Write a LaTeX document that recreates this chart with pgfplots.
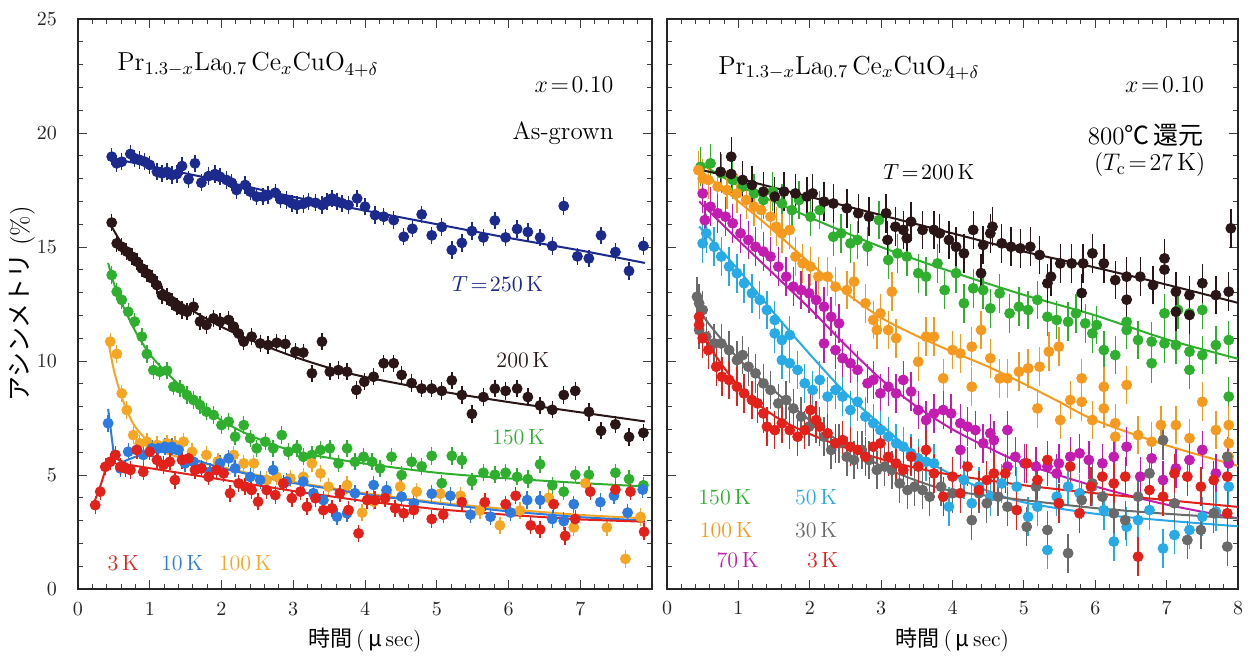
\documentclass[border=0pt]{standalone}
\usepackage{fontspec}
\newfontfamily\cjk{Noto Sans CJK JP}
\usepackage{pgfplots}
\pgfplotsset{compat=1.18}
\definecolor{cnavy}{HTML}{1B2A8C}
\definecolor{cblk}{HTML}{2A1616}
\definecolor{cgrn}{HTML}{2EB02E}
\definecolor{corg}{HTML}{F5A623}
\definecolor{cblu}{HTML}{2E7BE0}
\definecolor{cred}{HTML}{E3211B}
\definecolor{ccyn}{HTML}{27AAE6}
\definecolor{cgry}{HTML}{6A6A6A}
\definecolor{cmag}{HTML}{C21DB0}
\definecolor{corg2}{HTML}{F59A1E}
\pgfplotsset{
  panel/.style={scale only axis, width=287pt, height=285pt,
    xmin=0, xmax=8, ymin=0, ymax=25,
    xtick={0,...,8}, ytick={0,5,10,15,20,25},
    minor x tick num=4, minor y tick num=4,
    tick align=inside, major tick length=4.5pt, minor tick length=2.5pt,
    axis line style={line width=0.6pt, black!85},
    every tick/.append style={black!75, line width=0.5pt},
    tick label style={font=\fontsize{10}{12}\selectfont, black!85},
    xticklabel style={yshift=-3pt}, yticklabel style={xshift=-7pt},
    xlabel={{\cjk 時間}\,(\,{\cjk μ}\,sec)},
    xlabel style={at={(axis description cs:0.5,-0.0895)}, anchor=center, font=\fontsize{11}{13}\selectfont},
  },
  dat/.style={only marks, mark=*, mark size=2.5pt, color=#1,
    mark options={fill=#1, draw=#1},
    error bars/y dir=both, error bars/y fixed=0.38, error bars/error mark=none,
    error bars/error bar style={#1, line width=0.7pt}},
  datR/.style={dat=#1, error bars/y fixed=0.85},
  fitl/.style={#1, line width=1pt, smooth, no marks},
  fits/.style={#1, line width=1pt, sharp plot, no marks},
}
\begin{document}
\begin{tikzpicture}
\useasboundingbox (-39pt,-36pt) rectangle (588pt,294.5pt);
% ---------------- left panel ----------------
\begin{axis}[panel, at={(0pt,0pt)}, anchor=south west,
  xticklabels={0,1,2,3,4,5,6,7,{}},
  ylabel={{\cjk アシンメトリ}\ (\%)},
  ylabel style={at={(axis description cs:-0.0976,0.5)}, anchor=center, font=\fontsize{12.5}{14}\selectfont}]
% 150 K
\addplot[dat=cgrn] coordinates {(0.47,13.77)(0.54,13.04)(0.61,12.68)(0.70,12.16)(0.79,11.73)(0.89,11.07)(0.96,10.31)(1.05,9.60)(1.14,9.53)(1.24,9.58)(1.33,8.87)(1.42,8.80)(1.52,8.51)(1.61,8.29)(1.70,8.07)(1.79,7.78)(1.89,7.63)(2.00,7.19)(2.10,7.34)(2.19,6.68)(2.31,7.19)(2.40,6.61)(2.49,6.17)(2.61,6.46)(2.72,6.17)(2.84,6.75)(2.93,6.02)(3.05,6.17)(3.14,5.80)(3.26,5.88)(3.38,6.10)(3.51,6.17)(3.63,5.51)(3.75,6.17)(3.86,5.58)(3.98,5.80)(4.10,5.58)(4.21,5.29)(4.37,5.80)(4.51,5.00)(4.65,5.58)(4.79,5.38)(4.93,5.84)(5.07,4.64)(5.21,5.84)(5.35,5.65)(5.49,4.73)(5.65,5.10)(5.81,5.01)(5.96,5.10)(6.12,4.92)(6.27,4.82)(6.44,5.47)(6.61,4.55)(6.77,4.27)(6.93,5.01)(7.12,5.01)(7.49,5.10)(7.68,4.82)(7.88,4.55)};
\addplot[fitl=cgrn] coordinates {(0.42,14.3)(0.5,13.4)(0.6,12.6)(0.8,11.3)(1.0,10.3)(1.2,9.6)(1.5,8.7)(2,7.4)(2.5,6.6)(3,6.05)(3.5,5.75)(4,5.5)(5,5.1)(6,4.85)(7,4.65)(7.9,4.5)};
% 200 K
\addplot[dat=cblk] coordinates {(0.47,16.07)(0.54,15.16)(0.61,15.01)(0.68,14.80)(0.75,14.58)(0.82,14.36)(0.89,14.06)(0.96,13.84)(1.03,13.63)(1.10,13.33)(1.17,12.89)(1.24,12.82)(1.31,12.60)(1.38,12.38)(1.45,12.24)(1.52,12.16)(1.61,12.38)(1.70,11.73)(1.79,11.58)(1.89,11.87)(1.98,11.73)(2.10,11.80)(2.17,11.51)(2.24,11.20)(2.31,10.85)(2.42,11.07)(2.54,10.77)(2.65,10.70)(2.77,10.80)(2.89,10.75)(3.03,10.41)(3.14,10.37)(3.26,9.46)(3.40,10.85)(3.51,9.53)(3.63,9.60)(3.75,9.53)(3.88,8.73)(3.99,9.09)(4.12,9.31)(4.26,9.90)(4.40,9.90)(4.51,9.39)(4.65,9.03)(4.79,8.79)(4.93,8.79)(5.07,8.69)(5.21,9.15)(5.35,8.51)(5.49,7.68)(5.65,8.42)(5.81,8.79)(5.96,8.69)(6.12,8.79)(6.27,8.42)(6.44,8.05)(6.61,7.86)(6.77,8.51)(6.93,8.69)(7.12,7.77)(7.29,6.94)(7.49,7.22)(7.68,6.67)(7.88,6.85)};
\addplot[fitl=cblk] coordinates {(0.45,16.0)(0.6,15.2)(0.8,14.3)(1.0,13.6)(1.5,12.4)(2,11.5)(2.5,10.8)(3,10.2)(3.5,9.7)(4,9.3)(5,8.7)(6,8.2)(7,7.75)(7.9,7.35)};
% 250 K
\addplot[dat=cnavy] coordinates {(0.47,18.96)(0.54,18.67)(0.61,18.74)(0.73,19.08)(0.79,18.89)(0.86,18.82)(0.93,18.74)(1.00,18.60)(1.10,18.30)(1.17,18.23)(1.24,18.30)(1.31,18.16)(1.38,18.20)(1.45,18.55)(1.54,17.97)(1.63,18.67)(1.72,17.82)(1.82,18.11)(1.91,18.20)(1.98,18.08)(2.07,17.94)(2.14,17.82)(2.21,17.50)(2.33,17.72)(2.40,17.43)(2.49,17.21)(2.58,17.21)(2.65,17.28)(2.75,17.38)(2.82,17.09)(2.91,17.06)(2.98,16.92)(3.05,16.84)(3.14,16.89)(3.21,16.99)(3.31,16.94)(3.40,16.84)(3.47,16.99)(3.54,17.13)(3.61,16.99)(3.68,16.92)(3.77,16.84)(3.89,17.13)(4.00,16.77)(4.14,16.40)(4.26,16.33)(4.40,16.18)(4.54,15.45)(4.66,15.80)(4.79,16.43)(4.93,15.51)(5.07,15.88)(5.21,14.87)(5.35,15.18)(5.49,15.70)(5.65,15.42)(5.81,16.16)(5.96,15.42)(6.12,15.79)(6.27,15.66)(6.44,15.42)(6.61,15.05)(6.77,16.80)(6.96,14.59)(7.12,14.50)(7.29,15.51)(7.49,14.78)(7.68,13.95)(7.88,15.05)};
\addplot[fitl=cnavy] coordinates {(0.45,18.9)(1,18.55)(2,17.9)(3,17.2)(4,16.6)(5,16.0)(6,15.4)(7,14.85)(7.9,14.3)};
% 100 K
\addplot[dat=corg] coordinates {(0.45,10.85)(0.54,10.31)(0.61,8.58)(0.68,7.85)(0.77,6.75)(0.86,6.39)(0.96,6.46)(1.10,6.32)(1.24,6.39)(1.35,6.32)(1.47,6.46)(1.59,6.02)(1.79,5.88)(1.95,5.60)(2.17,5.88)(2.31,5.51)(2.45,5.51)(2.63,4.78)(2.77,4.92)(2.96,4.85)(3.14,4.92)(3.26,5.51)(3.38,5.07)(3.49,4.49)(3.75,4.56)(3.96,3.35)(4.12,3.83)(4.30,4.20)(4.49,4.49)(4.72,4.27)(5.05,4.18)(5.33,4.09)(5.60,3.44)(5.88,2.79)(6.16,3.44)(6.56,4.00)(6.91,2.70)(7.07,4.64)(7.37,2.70)(7.63,1.32)(7.84,3.16)};
\addplot[fitl=corg] coordinates {(0.42,10.9)(0.5,9.6)(0.6,8.5)(0.7,7.7)(0.8,7.1)(1.0,6.4)(1.2,6.0)(1.5,5.7)(2,5.35)(2.5,5.0)(3,4.7)(4,4.2)(5,3.8)(6,3.5)(7,3.25)(7.9,3.1)};
% 10 K
\addplot[dat=cblu] coordinates {(0.42,7.27)(0.52,5.88)(0.59,5.29)(0.70,6.02)(0.82,6.10)(0.91,5.88)(1.03,6.17)(1.12,6.17)(1.21,6.24)(1.31,6.24)(1.40,6.10)(1.49,5.51)(1.61,5.58)(1.72,5.29)(1.84,5.14)(1.98,5.51)(2.10,5.73)(2.19,5.29)(2.40,4.92)(2.54,4.78)(2.72,5.22)(2.91,4.71)(3.14,4.71)(3.28,4.20)(3.42,3.90)(3.61,3.17)(3.75,3.32)(3.86,4.20)(4.12,4.56)(4.30,4.34)(4.51,4.05)(4.68,3.76)(4.93,4.18)(5.19,4.09)(5.47,3.26)(5.75,3.17)(6.03,3.35)(6.26,3.90)(6.44,3.90)(6.61,3.07)(6.77,2.98)(6.91,3.72)(7.28,3.81)(7.47,4.09)(7.66,3.35)(7.87,4.36)};
\addplot[fits=cblu] coordinates {(0.42,7.9)(0.5,5.9)(0.6,5.55)(0.8,5.8)(1.0,6.0)(1.3,6.0)(1.6,5.7)(2,5.3)(2.5,4.95)(3,4.65)(4,4.15)(5,3.75)(6,3.4)(7,3.15)(7.9,3.0)};
% 3 K
\addplot[dat=cred] coordinates {(0.24,3.68)(0.31,4.27)(0.38,5.36)(0.45,5.58)(0.52,5.88)(0.59,5.36)(0.66,5.29)(0.73,5.22)(0.82,6.10)(0.91,5.14)(1.00,6.02)(1.10,5.66)(1.19,5.44)(1.28,5.58)(1.35,4.78)(1.45,5.66)(1.54,5.73)(1.63,5.22)(1.72,5.29)(1.82,4.92)(1.93,5.22)(2.03,5.07)(2.12,4.20)(2.24,4.63)(2.33,4.49)(2.42,4.34)(2.51,3.83)(2.63,4.34)(2.75,4.12)(2.86,4.63)(2.98,3.98)(3.10,4.27)(3.19,3.61)(3.31,3.98)(3.42,3.46)(3.54,3.54)(3.65,4.20)(3.77,3.46)(3.91,2.44)(4.03,3.90)(4.14,3.90)(4.28,3.98)(4.42,3.54)(4.54,3.32)(4.68,3.46)(4.93,3.07)(5.09,3.26)(5.35,3.81)(5.67,3.81)(5.96,3.72)(6.10,4.09)(6.31,2.79)(6.44,2.61)(6.63,3.72)(6.79,2.33)(6.93,3.07)(7.14,4.27)(7.49,4.36)(7.70,4.27)(7.89,2.51)};
\addplot[fits=cred] coordinates {(0.2,3.6)(0.3,4.4)(0.4,5.4)(0.47,5.85)(0.55,5.7)(0.7,5.45)(1,5.3)(1.5,5.05)(2,4.8)(3,4.3)(4,3.85)(5,3.5)(6,3.25)(7,3.05)(7.9,2.95)};
% texts
\node[anchor=west, font=\fontsize{13}{15}\selectfont] at (axis cs:0.45,23.0) {$\mathrm{Pr}_{1.3-x}\mathrm{La}_{0.7}\,\mathrm{Ce}_{x}\mathrm{CuO}_{4+\delta}$};
\node[anchor=east, font=\fontsize{12.5}{15}\selectfont] at (axis cs:7.56,22.1) {$x\!=\!0.10$};
\node[anchor=east, font=\fontsize{12.5}{15}\selectfont] at (axis cs:7.56,20.0) {As-grown};
\node[cnavy, font=\fontsize{11}{13}\selectfont] at (axis cs:5.85,13.4) {$T\!=\!250\,$K};
\node[cblk, font=\fontsize{11}{13}\selectfont] at (axis cs:6.2,10.04) {200\,K};
\node[cgrn, font=\fontsize{11}{13}\selectfont] at (axis cs:6.14,6.67) {150\,K};
\node[cred, font=\fontsize{11}{13}\selectfont] at (axis cs:0.63,1.14) {3\,K};
\node[cblu, font=\fontsize{11}{13}\selectfont] at (axis cs:1.45,1.14) {10\,K};
\node[corg, font=\fontsize{11}{13}\selectfont] at (axis cs:2.33,1.14) {100\,K};
\end{axis}
% ---------------- right panel ----------------
\begin{axis}[panel, at={(294.5pt,0pt)}, anchor=south west, width=285.5pt, yticklabels={}]
% 150 K
\addplot[datR=cgrn] coordinates {(0.47,18.52)(0.61,18.67)(0.76,18.23)(0.92,17.94)(1.06,17.65)(1.22,17.35)(1.35,17.06)(1.48,17.43)(1.61,16.91)(1.75,16.62)(1.85,17.06)(2.01,16.33)(2.14,16.62)(2.33,15.45)(2.44,15.60)(2.57,15.16)(2.67,15.31)(2.81,15.01)(2.97,16.18)(3.10,14.43)(3.23,14.72)(3.36,14.58)(3.52,13.85)(3.63,13.70)(3.79,14.28)(3.89,13.11)(4.05,13.85)(4.16,12.53)(4.29,13.19)(4.43,13.11)(4.53,12.31)(4.66,12.97)(4.80,12.09)(4.93,12.38)(5.06,12.24)(5.19,12.68)(5.33,11.94)(5.46,11.80)(5.62,11.72)(5.73,12.09)(5.86,11.65)(5.96,11.21)(6.02,11.58)(6.12,10.48)(6.28,10.26)(6.44,11.36)(6.44,11.72)(6.60,10.92)(6.79,10.85)(6.79,9.90)(6.97,10.77)(6.97,12.09)(7.13,10.70)(7.16,12.24)(7.32,10.41)(7.32,9.61)(7.32,12.09)(7.50,10.26)(7.50,12.24)(7.69,10.70)(7.87,10.92)(7.87,8.44)};
\addplot[fitl=cgrn] coordinates {(0.45,18.7)(1,17.7)(2,16.3)(3,15.0)(4,13.9)(5,12.9)(6,12.0)(7,10.95)(8,10.1)};
% 100 K
\addplot[datR=corg2] coordinates {(0.44,18.37)(0.50,18.00)(0.58,17.94)(0.71,17.65)(0.84,17.50)(0.98,17.35)(1.11,17.06)(1.22,16.77)(1.32,16.62)(1.45,16.33)(1.53,15.89)(1.61,15.60)(1.72,15.75)(1.80,14.58)(1.90,14.28)(2.01,14.14)(2.12,13.70)(2.25,13.70)(2.36,13.26)(2.52,13.11)(2.62,13.48)(2.78,12.53)(2.89,11.80)(2.94,11.36)(2.99,12.09)(3.10,11.36)(3.15,13.04)(3.21,11.00)(3.52,9.97)(3.63,11.07)(3.74,11.07)(3.87,9.24)(4.00,10.48)(4.11,10.33)(4.27,8.87)(4.27,10.63)(4.40,11.36)(4.53,10.12)(4.66,9.24)(4.77,9.24)(4.93,9.53)(5.06,9.68)(5.19,7.92)(5.22,9.75)(5.35,10.41)(5.49,10.63)(5.51,7.41)(5.65,8.29)(5.81,8.21)(5.81,9.24)(5.96,7.41)(6.12,8.87)(6.12,7.92)(6.28,6.68)(6.28,7.27)(6.44,8.95)(6.60,6.75)(6.79,6.46)(6.92,7.19)(7.13,7.19)(7.32,6.61)(7.50,8.21)(7.50,6.10)(7.69,6.97)(7.87,7.19)(7.87,6.39)(7.87,5.80)};
\addplot[fitl=corg2] coordinates {(0.45,18.4)(1,17.0)(1.5,15.7)(2,14.3)(2.5,13.0)(3,11.9)(3.5,11.1)(4,10.4)(4.5,9.75)(5,9.0)(5.5,8.2)(6,7.4)(7,6.3)(8,5.4)};
% 70 K
\addplot[datR=cmag] coordinates {(0.50,17.35)(0.53,16.18)(0.61,16.77)(0.71,16.48)(0.82,16.33)(0.92,16.04)(1.03,15.60)(1.14,15.31)(1.24,15.01)(1.35,14.80)(1.45,14.58)(1.56,14.14)(1.67,13.70)(1.77,13.26)(1.88,13.11)(1.99,12.97)(2.09,12.68)(2.20,12.38)(2.20,10.77)(2.30,11.94)(2.36,10.48)(2.41,11.65)(2.46,10.12)(2.57,9.90)(2.67,9.61)(2.81,9.02)(2.89,9.17)(2.99,8.58)(3.10,8.87)(3.21,8.58)(3.31,9.17)(3.42,8.66)(3.52,7.85)(3.63,7.41)(3.74,7.70)(3.87,7.85)(3.98,7.70)(4.11,7.27)(4.11,6.10)(4.21,7.12)(4.32,6.97)(4.43,6.39)(4.53,6.83)(4.58,6.53)(4.77,6.97)(4.77,5.37)(4.88,5.80)(5.01,5.51)(5.17,5.37)(5.33,5.37)(5.46,5.07)(5.49,5.51)(5.65,5.80)(5.78,5.95)(5.91,5.66)(6.10,5.51)(6.26,5.80)(6.44,6.24)(6.63,4.93)(6.79,5.73)(6.95,4.78)(7.13,5.29)(7.32,5.66)(7.50,6.10)(7.69,5.07)(7.87,5.51)};
\addplot[fitl=cmag] coordinates {(0.45,17.0)(1,15.3)(1.5,13.8)(2,12.3)(2.5,10.7)(3,9.2)(3.5,8.0)(4,7.0)(4.5,6.2)(5,5.5)(6,4.5)(7,3.7)(8,3.1)};
% 50 K
\addplot[datR=ccyn] coordinates {(0.50,15.16)(0.55,15.60)(0.66,15.01)(0.76,14.58)(0.87,14.14)(0.98,13.85)(1.08,13.41)(1.19,12.97)(1.30,12.68)(1.40,12.24)(1.51,11.80)(1.51,11.21)(1.61,10.92)(1.72,11.14)(1.61,10.04)(1.72,9.90)(1.83,9.61)(1.93,9.02)(2.04,8.73)(2.14,9.17)(2.25,8.44)(2.36,8.73)(2.46,8.44)(2.57,7.85)(2.67,8.21)(2.78,7.56)(2.89,7.27)(2.99,6.97)(3.10,6.68)(3.21,6.39)(3.31,6.24)(3.42,5.95)(3.52,5.73)(3.63,5.58)(3.74,5.51)(3.95,3.61)(4.16,4.78)(4.27,3.76)(4.37,4.49)(4.53,4.05)(4.69,4.63)(4.90,4.49)(5.06,3.17)(5.19,3.61)(5.33,1.71)(5.46,4.05)(5.62,4.49)(5.78,4.20)(5.96,4.49)(6.12,3.46)(6.26,2.08)(6.44,2.73)(6.60,3.02)(6.76,3.46)(6.95,1.78)(7.11,2.37)(7.32,2.59)(7.50,3.17)(7.69,3.39)(7.87,4.49)};
\addplot[fitl=ccyn] coordinates {(0.45,15.9)(1,14.0)(1.5,12.1)(2,10.3)(2.5,8.6)(3,7.2)(3.5,5.9)(4,5.0)(4.5,4.3)(5,3.8)(6,3.3)(7,3.0)(8,2.75)};
% 30 K
\addplot[datR=cgry] coordinates {(0.42,12.82)(0.45,12.53)(0.50,12.24)(0.45,11.36)(0.55,11.07)(0.66,10.77)(0.76,10.77)(0.87,10.48)(0.98,10.04)(1.06,10.26)(1.14,9.75)(1.24,9.46)(1.35,9.02)(1.45,8.73)(1.56,8.14)(1.67,8.29)(1.77,7.92)(1.88,7.56)(1.99,7.12)(2.09,7.27)(2.20,6.68)(2.30,6.10)(2.41,6.39)(2.52,5.80)(2.62,5.66)(2.73,6.10)(2.83,5.66)(2.94,5.22)(3.05,5.37)(3.15,5.22)(3.26,4.63)(3.37,4.34)(3.47,4.49)(3.58,4.34)(3.68,4.05)(3.84,4.49)(4.00,4.20)(4.27,3.02)(4.37,4.20)(4.48,3.76)(4.64,4.05)(4.77,3.61)(5.04,2.73)(5.17,4.49)(5.33,2.59)(5.49,3.76)(5.62,1.57)(5.81,3.90)(5.96,4.63)(6.10,4.05)(6.26,3.32)(6.42,3.02)(6.60,4.05)(6.76,5.07)(6.95,6.53)(7.11,3.76)(7.29,2.15)(7.48,2.59)(7.66,3.32)(7.85,5.80)(7.85,1.86)};
\addplot[fitl=cgry] coordinates {(0.42,12.8)(0.5,12.0)(1,10.1)(1.5,8.7)(2,7.4)(2.5,6.3)(3,5.4)(3.5,4.75)(4,4.3)(5,3.9)(6,3.55)(7,3.3)(8,3.1)};
% 3 K
\addplot[datR=cred] coordinates {(0.45,11.94)(0.45,11.58)(0.50,11.00)(0.58,10.48)(0.69,9.75)(0.77,9.31)(0.87,9.17)(0.98,8.87)(1.08,8.58)(1.19,8.29)(1.27,8.14)(1.35,7.70)(1.40,7.12)(1.51,6.97)(1.61,7.27)(1.72,6.97)(1.83,6.68)(1.93,6.97)(2.01,7.85)(2.09,7.41)(2.14,7.12)(2.25,6.83)(2.36,6.39)(2.46,6.53)(2.57,6.24)(2.67,6.10)(2.78,5.80)(2.89,6.24)(2.99,6.39)(3.10,5.80)(3.21,5.51)(3.31,5.22)(3.42,5.80)(3.52,5.37)(3.63,6.10)(3.74,5.07)(3.87,4.05)(4.00,4.93)(4.11,4.20)(4.21,5.37)(4.37,4.34)(4.48,4.78)(4.58,5.07)(4.74,5.07)(4.90,3.46)(5.04,5.51)(5.19,4.78)(5.33,5.66)(5.49,3.76)(5.65,5.37)(5.78,3.32)(5.94,4.49)(6.10,4.93)(6.26,4.63)(6.42,4.93)(6.60,1.42)(6.76,4.34)(6.95,4.05)(7.11,5.07)(7.29,4.93)(7.48,4.49)(7.66,4.78)(7.85,3.32)(7.85,4.93)};
\addplot[fitl=cred] coordinates {(0.42,12.0)(0.5,11.1)(1,8.9)(1.5,7.6)(2,6.8)(2.5,6.2)(3,5.7)(3.5,5.3)(4,5.0)(5,4.55)(6,4.2)(7,3.9)(8,3.6)};
% 200 K
\addplot[datR=cblk] coordinates {(0.75,18.30)(0.90,18.96)(0.90,18.20)(1.06,17.94)(1.19,17.72)(1.35,17.43)(1.51,17.21)(1.64,17.43)(1.80,17.35)(1.96,17.21)(2.04,17.35)(2.20,16.99)(2.33,16.91)(2.52,16.70)(2.68,16.48)(2.83,16.33)(3.07,16.48)(3.09,15.31)(3.20,15.89)(3.31,15.75)(3.36,15.38)(3.42,16.11)(3.58,15.75)(3.74,15.75)(3.82,15.60)(3.95,15.31)(4.05,15.01)(4.16,14.72)(4.29,15.75)(4.40,13.85)(4.43,15.09)(4.53,15.60)(4.56,15.89)(4.69,15.16)(4.82,15.01)(4.95,14.94)(5.09,15.01)(5.22,14.65)(5.33,13.41)(5.38,13.70)(5.51,14.28)(5.67,14.28)(5.81,12.98)(5.83,14.28)(5.96,14.72)(6.12,14.28)(6.28,13.55)(6.44,13.70)(6.44,12.69)(6.63,13.70)(6.81,13.33)(6.97,14.50)(6.97,14.01)(7.13,13.04)(7.13,12.16)(7.32,12.89)(7.32,12.02)(7.50,13.41)(7.69,12.89)(7.87,13.04)(7.90,15.82)};
\addplot[fitl=cblk] coordinates {(0.45,18.4)(1,18.0)(2,17.2)(3,16.4)(4,15.6)(5,14.8)(6,14.1)(7,13.35)(8,12.55)};
% texts
\node[anchor=west, font=\fontsize{13}{15}\selectfont] at (axis cs:0.62,22.85) {$\mathrm{Pr}_{1.3-x}\mathrm{La}_{0.7}\,\mathrm{Ce}_{x}\mathrm{CuO}_{4+\delta}$};
\node[anchor=east, font=\fontsize{12.5}{15}\selectfont] at (axis cs:7.62,22.1) {$x\!=\!0.10$};
\node[anchor=east, font=\fontsize{12.5}{15}\selectfont] at (axis cs:7.62,19.9) {800{\cjk ℃\,還元}};
\node[anchor=east, font=\fontsize{12.5}{15}\selectfont] at (axis cs:7.64,18.6) {$(T_{\mathrm{c}}\!=\!27\,\mathrm{K})$};
\node[font=\fontsize{11}{13}\selectfont] at (axis cs:3.67,18.3) {$T\!=\!200\,$K};
\node[cgrn, font=\fontsize{11}{13}\selectfont] at (axis cs:0.81,4.04) {150\,K};
\node[ccyn, font=\fontsize{11}{13}\selectfont] at (axis cs:2.09,4.04) {50\,K};
\node[corg2, font=\fontsize{11}{13}\selectfont] at (axis cs:0.83,2.59) {100\,K};
\node[cgry, font=\fontsize{11}{13}\selectfont] at (axis cs:2.09,2.59) {30\,K};
\node[cmag, font=\fontsize{11}{13}\selectfont] at (axis cs:0.99,1.27) {70\,K};
\node[cred, font=\fontsize{11}{13}\selectfont] at (axis cs:2.18,1.27) {3\,K};
\end{axis}
\end{tikzpicture}
\end{document}
